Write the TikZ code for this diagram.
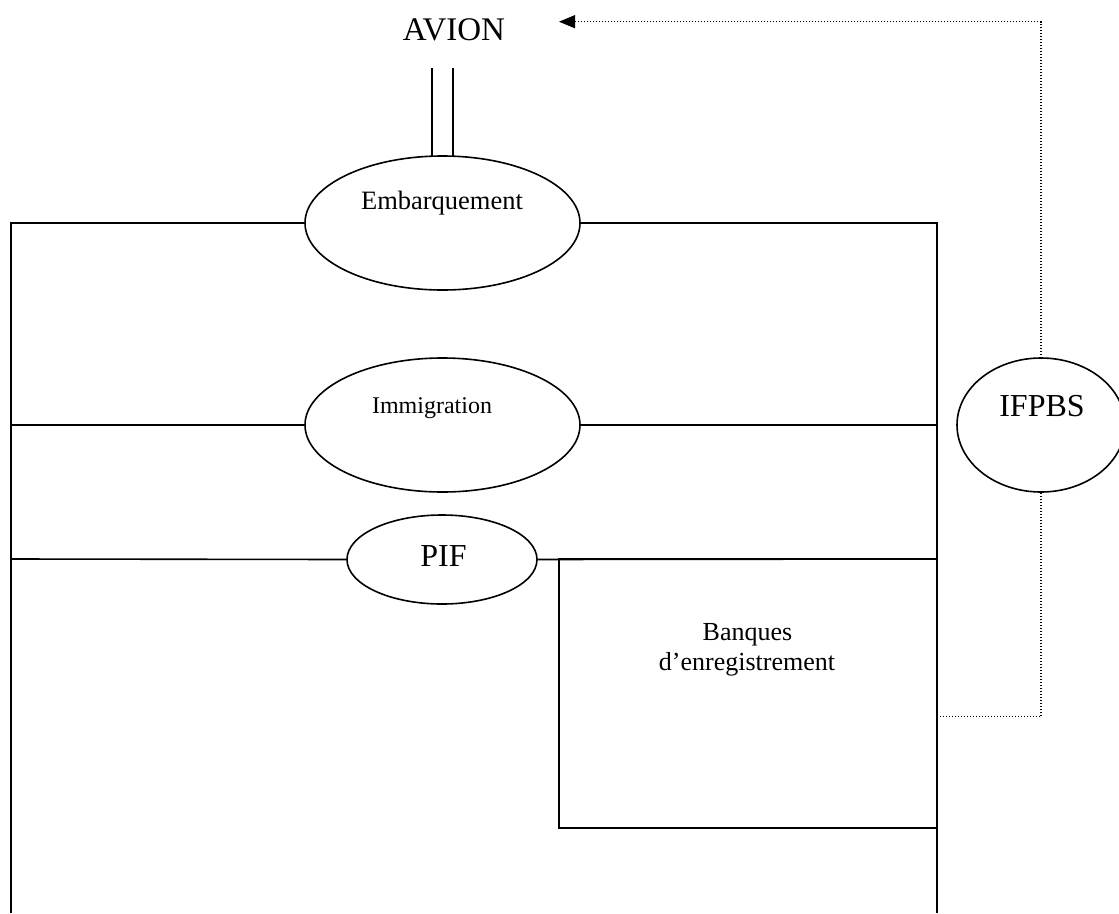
\documentclass[tikz,border=0pt]{standalone}
\usepackage{fontspec}
\setmainfont{Liberation Serif}
\usetikzlibrary{shapes.geometric,arrows.meta}
\begin{document}
\begin{tikzpicture}[x=1pt,y=-1pt,
  wall/.style={line width=1.6pt},
  oval/.style={ellipse,draw,line width=1.6pt,inner sep=0pt,outer sep=0pt,fill=white},
  txt/.style={anchor=base,inner sep=0pt},
  fb/.style={line width=1.3pt,dash pattern=on 1.2pt off 1.8pt}]
\clip (0,0) rectangle (1119,913);
\fill[white] (0,0) rectangle (1119,913);

% zones on the airside path
\node[oval,minimum width=275,minimum height=134] (emb) at (442.5,223) {};
\node[oval,minimum width=275,minimum height=134] (imm) at (442.5,425) {};
\node[oval,minimum width=190,minimum height=89] (pif) at (442,559.5) {};
\node[oval,minimum width=168,minimum height=134] (ifpbs) at (1041,425) {};

% check-in counters block
\node[draw,line width=1.6pt,minimum width=378.3,minimum height=269,inner sep=0pt,outer sep=0pt,anchor=north west] (banq) at (558.7,559) {};

% labels
\node[txt,font=\fontsize{33}{36}\selectfont] (avion) at (454,40) {AVION};
\node[txt,font=\fontsize{26.5}{30}\selectfont] (tEmb) at (442,209) {Embarquement};
\node[txt,font=\fontsize{24}{28}\selectfont] (tImm) at (432,413) {Immigration};
\node[txt,font=\fontsize{32}{36}\selectfont] (tPif) at (443.5,566) {PIF};
\node[txt,font=\fontsize{32}{36}\selectfont] (tIfp) at (1042,416) {IFPBS};
\node[txt,font=\fontsize{26}{30}\selectfont] (tBan1) at (747.5,640) {Banques};
\node[txt,font=\fontsize{26}{30}\selectfont] (tBan2) at (747,670) {d’enregistrement};

% outer walls and cross partitions
\coordinate (lt) at (11,223);
\coordinate (rt) at (937,223);
\draw[wall] (emb.west) -- (lt) -- (11,913);
\draw[wall] (emb.east) -- (rt) -- (937,913);
\draw[wall] (11,425) -- (imm.west);
\draw[wall] (imm.east) -- (937,425);
\draw[wall] (11,559) -- (pif.west);
\draw[wall] (pif.east) -- (937,559);

% boarding bridge to the aircraft
\draw[wall] ([xshift=-10.5pt]emb.north) -- ++(0,-88);
\draw[wall] ([xshift=10.5pt]emb.north) -- ++(0,-88);

% baggage screening flow
\coordinate (tap) at (937,716.7);
\coordinate (avtip) at (559,21.7);
\draw[fb] (tap) -- (tap -| ifpbs.south) -- (ifpbs.south);
\draw[fb,-{Triangle[length=16pt,width=13pt,sep=0pt]}] (ifpbs.north) -- (ifpbs.north |- avtip) -- (avtip);
\end{tikzpicture}
\end{document}
